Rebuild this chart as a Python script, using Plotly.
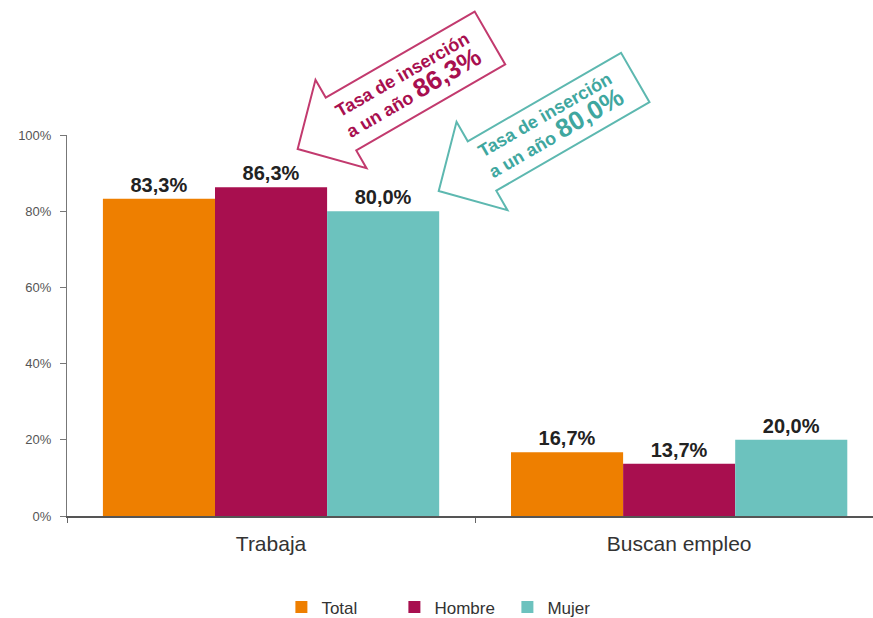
import math
import plotly.graph_objects as go

# Situación laboral a un año de la titulación
categorias = ["Trabaja", "Buscan empleo"]
total = [83.3, 16.7]
hombre = [86.3, 13.7]
mujer = [80.0, 20.0]
ticks_y = [0, 20, 40, 60, 80, 100]

COL_TOTAL = "#EE7F00"
COL_HOMBRE = "#A80F4F"
COL_MUJER = "#6CC2BE"
COL_HOMBRE_LINE = "#C23A6E"
COL_MUJER_LINE = "#5DB8B0"
COL_MUJER_TEXT = "#3FA79F"

W, H = 873, 618
ML, MR, MT, MB = 67, 0, 135, 102
PW, PH = W - ML - MR, H - MT - MB
FONT = "Liberation Sans, Arial"


def to_paper(px, py):
    return (px - ML) / PW, (H - MB - py) / PH


def fmt(v):
    return f"{v:.1f}".replace(".", ",")


fig = go.Figure()
for name, vals, col in [("Total", total, COL_TOTAL),
                        ("Hombre", hombre, COL_HOMBRE),
                        ("Mujer", mujer, COL_MUJER)]:
    fig.add_trace(go.Bar(
        name=name, x=categorias, y=vals,
        marker=dict(color=col, line=dict(width=0)),
        texttemplate="<b>%{y:.1f}%</b>", textposition="outside",
        textfont=dict(family=FONT, size=20, color="#222222"),
        cliponaxis=False,
    ))


def block_arrow(bx, by, ang, length, w, hw, hl):
    """Outline of a block arrow pointing down-left, given the mid point of the head base."""
    a = math.radians(ang)
    u = (math.cos(a), -math.sin(a))
    n = (math.sin(a), math.cos(a))
    pts = [
        (bx - hl * u[0], by - hl * u[1]),
        (bx - hw / 2 * n[0], by - hw / 2 * n[1]),
        (bx - w / 2 * n[0], by - w / 2 * n[1]),
        (bx + length * u[0] - w / 2 * n[0], by + length * u[1] - w / 2 * n[1]),
        (bx + length * u[0] + w / 2 * n[0], by + length * u[1] + w / 2 * n[1]),
        (bx + w / 2 * n[0], by + w / 2 * n[1]),
        (bx + hw / 2 * n[0], by + hw / 2 * n[1]),
    ]
    pp = [to_paper(x, y) for x, y in pts]
    path = "M " + " L ".join(f"{x:.4f},{y:.4f}" for x, y in pp) + " Z"
    centre = to_paper(bx + (length / 2 - 8) * u[0], by + (length / 2 - 8) * u[1])
    return path, centre


callouts = [
    (341, 124, 172, 61, COL_HOMBRE_LINE, COL_HOMBRE, hombre[0]),
    (482, 166, 177, 57, COL_MUJER_LINE, COL_MUJER_TEXT, mujer[0]),
]
for bx, by, length, w, lcol, tcol, val in callouts:
    path, (cx, cy) = block_arrow(bx, by, 30, length, w, 102, 50)
    fig.add_shape(type="path", path=path, xref="paper", yref="paper",
                  line=dict(color=lcol, width=2), fillcolor="white", layer="above")
    fig.add_annotation(
        x=cx, y=cy, xref="paper", yref="paper", xanchor="center", yanchor="middle",
        showarrow=False, textangle=-30,
        text=("<b>Tasa de inserción<br>a un año "
              f"<span style='font-size:26px'>{fmt(val)}%</span></b>"),
        font=dict(family=FONT, size=18, color=tcol),
        align="center",
    )

fig.update_layout(
    width=W, height=H,
    margin=dict(l=ML, r=MR, t=MT, b=MB, autoexpand=False),
    paper_bgcolor="white", plot_bgcolor="white",
    separators=",.",
    barmode="group", bargap=0.176, bargroupgap=0,
    font=dict(family=FONT, color="#333333"),
    showlegend=True,
    legend=dict(orientation="h", x=0.266, xanchor="left", y=-0.287, yanchor="bottom",
                font=dict(size=17, color="#333333"), itemwidth=30,
                entrywidth=68, traceorder="normal"),
    xaxis=dict(
        range=[-0.5, 1.475], showline=True, linecolor="#555555", linewidth=2,
        ticks="outside", tickson="boundaries", ticklen=5, tickcolor="#666666",
        ticklabelstandoff=8,
        tickfont=dict(size=21, color="#333333"), showgrid=False, zeroline=False,
    ),
    yaxis=dict(
        range=[0, 100], tickvals=ticks_y, ticktext=[f"{v}%" for v in ticks_y],
        showline=True, linecolor="#777777", linewidth=1,
        ticks="outside", ticklen=6, tickcolor="#777777", ticklabelstandoff=6,
        tickfont=dict(size=13, color="#555555"), showgrid=False, zeroline=False,
    ),
)

fig.write_html("out.html")
